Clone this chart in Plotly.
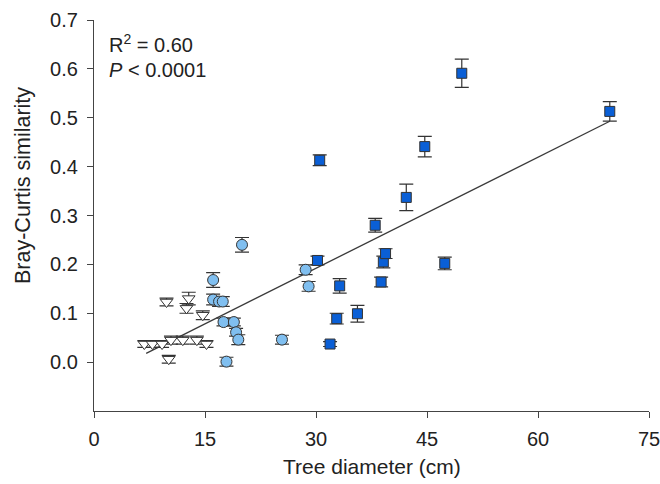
import plotly.graph_objects as go

# Triangles (smallest trees)
tri_x = [6.8, 7.9, 9.2, 10.4, 12.0, 13.9, 15.2, 10.1, 9.8, 12.8, 12.5, 14.7]
tri_y = [0.037, 0.037, 0.037, 0.045, 0.045, 0.045, 0.037, 0.006, 0.123, 0.130, 0.110, 0.096]
tri_e = [0.007, 0.007, 0.007, 0.008, 0.008, 0.008, 0.007, 0.008, 0.008, 0.013, 0.010, 0.009]

# Circles (medium trees)
cir_x = [20.0, 16.1, 16.1, 16.9, 17.4, 17.5, 18.9, 19.2, 19.5, 17.9, 25.4, 28.6, 29.0]
cir_y = [0.240, 0.168, 0.128, 0.124, 0.124, 0.082, 0.082, 0.061, 0.046, 0.001, 0.046, 0.189, 0.155]
cir_e = [0.015, 0.015, 0.011, 0.010, 0.010, 0.008, 0.008, 0.008, 0.010, 0.009, 0.009, 0.010, 0.010]

# Squares (large trees)
sq_x = [30.5, 30.2, 33.2, 32.8, 31.9, 35.6, 38.0, 39.1, 39.4, 38.8, 42.2, 44.7, 47.4, 49.7, 69.7]
sq_y = [0.413, 0.208, 0.156, 0.089, 0.037, 0.099, 0.280, 0.205, 0.222, 0.164, 0.337, 0.441, 0.202, 0.591, 0.513]
sq_e = [0.011, 0.009, 0.015, 0.011, 0.005, 0.017, 0.014, 0.012, 0.010, 0.010, 0.027, 0.021, 0.013, 0.029, 0.020]

# Regression line
fit_slope = 0.00758
fit_intercept = -0.0354
fit_x = [7.05, 69.7]

x_ticks = [0, 15, 30, 45, 60, 75]
y_ticks = [0.0, 0.1, 0.2, 0.3, 0.4, 0.5, 0.6, 0.7]

err_col = "#333333"
line_col = "#3a3a3a"
FONT = "Liberation Sans, Arial, sans-serif"

L, R, T, B = 94, 11, 20, 73
W, H = 660, 484
pw, ph = W - L - R, H - T - B

def px_to_paper(px, py):
    return (px - L) / pw, 1 - (py - T) / ph

fig = go.Figure()

fig.add_trace(go.Scatter(
    x=fit_x, y=[fit_intercept + fit_slope * v for v in fit_x],
    mode="lines", line=dict(color=line_col, width=1.3), showlegend=False, hoverinfo="skip"))

def add_series(xs, ys, es, symbol, fill, size):
    fig.add_trace(go.Scatter(
        x=xs, y=ys, mode="markers",
        error_y=dict(type="data", array=es, visible=True, color=err_col, thickness=1.2, width=7),
        marker=dict(symbol=symbol, size=size, color=fill, line=dict(color="#333333", width=1)),
        showlegend=False))

add_series(tri_x, tri_y, tri_e, "triangle-down", "white", 11)
add_series(cir_x, cir_y, cir_e, "circle", "#80bff0", 11)
add_series(sq_x, sq_y, sq_e, "square", "#0a5fd6", 10)

def add_text(text, px, py, size, xanchor="left", angle=0):
    ax, ay = px_to_paper(px, py)
    fig.add_annotation(x=ax, y=ay, xref="paper", yref="paper", text=text, showarrow=False,
                       xanchor=xanchor, yanchor="middle", textangle=angle,
                       font=dict(family=FONT, size=size, color="#222"))

add_text("R<sup>2</sup> = 0.60", 107, 44, 20)
add_text("<i>P</i> < 0.0001", 107, 70, 20)
add_text("Tree diameter (cm)", 372, 466, 21, xanchor="center")
add_text("Bray-Curtis similarity", 23, 186, 21.5, xanchor="center", angle=-90)

fig.update_layout(
    width=W, height=H,
    margin=dict(l=L, r=R, t=T, b=B),
    plot_bgcolor="white", paper_bgcolor="white",
    font=dict(family=FONT, size=16, color="#222"),
    xaxis=dict(range=[0, 75], tickvals=x_ticks, ticks="outside", ticklen=6, tickcolor="#444",
               showline=True, linecolor="#444", linewidth=1.2, showgrid=False, zeroline=False,
               automargin=False, ticklabelstandoff=4, ticklabeloverflow="allow",
               tickfont=dict(size=20)),
    yaxis=dict(range=[-0.1, 0.7], tickvals=y_ticks, tickformat=".1f", ticks="outside", ticklen=6,
               tickcolor="#444", showline=True, linecolor="#444", linewidth=1.2, showgrid=False,
               zeroline=False, automargin=False, ticklabelstandoff=5, ticklabeloverflow="allow",
               tickfont=dict(size=20)),
)

fig.write_html("out.html", config={"displayModeBar": False},
               post_script="document.body.style.margin='0';document.body.style.padding='0';")
